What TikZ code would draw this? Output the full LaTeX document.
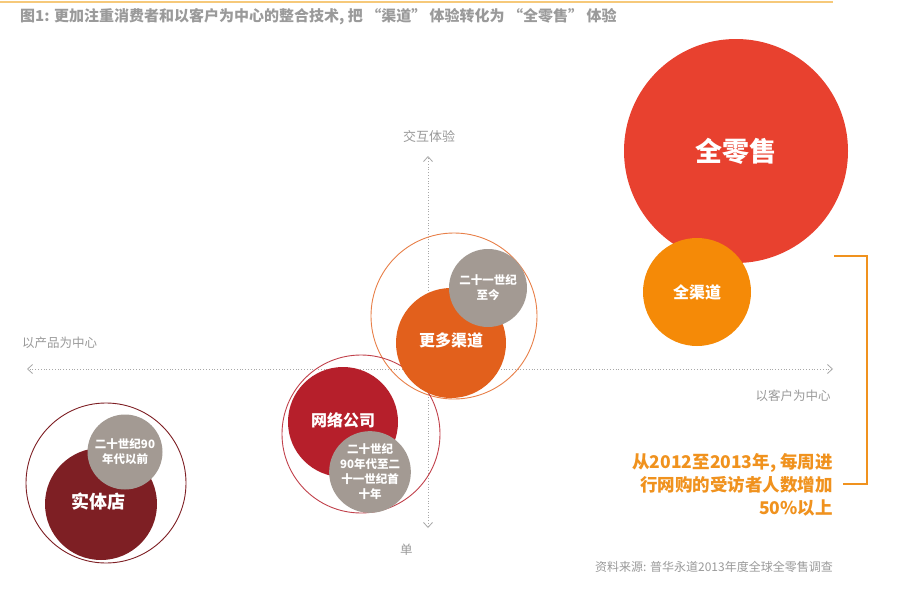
\documentclass[tikz,border=0pt]{standalone}
\usepackage{fontspec}
\setmainfont{Noto Sans CJK SC}
\newfontfamily\cjk{Noto Sans CJK SC}
\usetikzlibrary{arrows.meta}
\definecolor{cRed}{HTML}{E8412F}
\definecolor{cOrange}{HTML}{F58A07}
\definecolor{cMore}{HTML}{E2601C}
\definecolor{cNet}{HTML}{B61F2B}
\definecolor{cShop}{HTML}{7E1F24}
\definecolor{cGray}{HTML}{A39A93}
\definecolor{cAxis}{HTML}{A8A8A8}
\definecolor{cLabel}{HTML}{9A9A9A}
\definecolor{cNote}{HTML}{F0921E}
\definecolor{cTop}{HTML}{F6C97A}
\newcommand{\fs}[1]{\fontsize{#1pt}{\dimexpr #1pt*13/10\relax}\selectfont}
\begin{document}
\begin{tikzpicture}[x=1pt,y=-1pt,
  bubble/.style={circle,inner sep=0pt,text=white,font=\cjk\bfseries,align=center},
  ring/.style={circle,inner sep=0pt,line width=0.9pt},
  axis/.style={cAxis,line width=0.8pt,dotted,-{Straight Barb[length=5pt,width=9pt,line width=0.8pt]}},
  axlabel/.style={text=cLabel,font=\cjk\fs{12.5},inner sep=0pt}]
\useasboundingbox (0,0) rectangle (900,597);
\fill[white] (0,0) rectangle (900,597);
% top line and title
\draw[cTop,line width=1.5pt] (0,2) -- (833,2);
\node[anchor=west,inner sep=0pt,text=cLabel,font=\cjk\bfseries\fs{15}] (title) at (20,17) {图1: 更加注重消费者和以客户为中心的整合技术, 把 “渠道” 体验转化为 “全零售” 体验};
% axes
\coordinate (origin) at (428,369);
\coordinate (ytop) at (428,156);
\coordinate (ybot) at (428,528);
\coordinate (xleft) at (27,369);
\coordinate (xright) at (833,369);
\draw[axis] (origin) -- (ytop);
\draw[axis] (origin) -- (ybot);
\draw[axis] (origin) -- (xleft);
\draw[axis] (origin) -- (xright);
\node[axlabel,font=\cjk\fs{13}] (lbtop) at (429,137) {交互体验};
\node[axlabel,anchor=west] (lbleft) at (22,343) {以产品为中心};
\node[axlabel] (lbright) at (793,396) {以客户为中心};
\node[axlabel,anchor=west] (lbbot) at (400,550) {单};
% rings
\node[ring,draw=cMore!80,minimum size=166pt] (ringMore) at (454,316) {};
\node[ring,draw=cNet!85,minimum size=158pt] (ringNet) at (361,434) {};
\node[ring,draw=cShop,minimum size=160pt] (ringShop) at (106,483) {};
% big bubbles
\node[bubble,fill=cRed,minimum size=224pt,font=\cjk\bfseries\fs{27}] (omni) at (736,151) {全零售};
\node[bubble,fill=cOrange,minimum size=108pt,font=\cjk\bfseries\fs{16}] (allch) at (697,292) {全渠道};
\node[bubble,fill=cMore,minimum size=110pt] (more) at (451,343) {};
\node[text=white,font=\cjk\bfseries\fs{16}] (moreT) at (451,340) {更多渠道};
\node[bubble,fill=cNet,minimum size=110pt] (net) at (343,422) {};
\node[text=white,font=\cjk\bfseries\fs{16}] (netT) at (343,420) {网络公司};
\node[bubble,fill=cShop,minimum size=112pt] (shop) at (101,504) {};
\node[text=white,font=\cjk\bfseries\fs{18}] (shopT) at (98,502) {实体店};
% gray era bubbles
\node[bubble,fill=cGray,minimum size=78pt,font=\cjk\bfseries\fs{11.5}] (era3) at (488,288) {二十一世纪\\至今};
\node[bubble,fill=cGray,minimum size=77pt,font=\cjk\bfseries\fs{11.5}] (era2) at (370,472) {二十世纪\\90年代至二\\十一世纪首\\十年};
\node[bubble,fill=cGray,minimum size=75pt,font=\cjk\bfseries\fs{11.5}] (era1) at (125,452) {二十世纪90\\年代以前};
% bracket and note
\coordinate (b1) at (834,256);
\coordinate (b2) at (867,256);
\coordinate (b3) at (867,484);
\coordinate (b4) at (843,484);
\draw[cNote,line width=1.3pt] (b1) -- (b2) -- (b3) -- (b4);
\node[anchor=east,align=right,text=cNote,font=\cjk\bfseries\fs{17.5},inner sep=0pt] (note) at (833,485)
  {从2012至2013年, 每周进\\行网购的受访者人数增加\\50\%以上};
\node[anchor=east,inner sep=0pt,text=cLabel,font=\cjk\fs{12}] (src) at (833,567) {资料来源: 普华永道2013年度全球全零售调查};
\end{tikzpicture}
\end{document}
